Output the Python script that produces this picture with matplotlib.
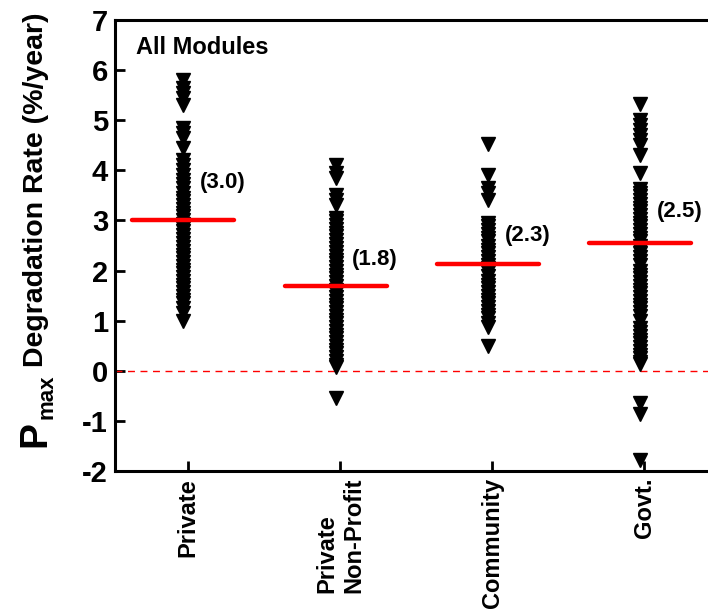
import matplotlib
matplotlib.use("Agg")
import matplotlib.pyplot as plt
import matplotlib.transforms as mtransforms

plt.rcParams['font.family'] = ['Liberation Sans', 'DejaVu Sans']

categories = ['Private', 'Private\nNon-Profit', 'Community', 'Govt.']

private_vals = [5.8, 5.65, 5.55, 5.45, 5.3,
                4.85, 4.75, 4.65, 4.45,
                4.2, 4.1, 4.0, 3.9, 3.8, 3.72, 3.65, 3.55, 3.45, 3.38, 3.3, 3.22,
                3.15, 3.08, 3.0, 2.92, 2.85, 2.78, 2.7, 2.62, 2.55, 2.48, 2.4,
                2.32, 2.25, 2.18, 2.1, 2.02, 1.95, 1.88, 1.8, 1.72, 1.65, 1.58,
                1.5, 1.42, 1.35, 1.25, 1.15, 1.0]
nonprofit_vals = [4.1, 3.95, 3.85,
                  3.5, 3.4, 3.3,
                  3.05, 2.98, 2.9, 2.82, 2.75, 2.68, 2.6, 2.52, 2.45, 2.38, 2.3,
                  2.22, 2.15, 2.08, 2.0, 1.92, 1.85, 1.78, 1.7, 1.62, 1.55, 1.48,
                  1.4, 1.32, 1.25, 1.18, 1.1, 1.02, 0.95, 0.88, 0.8, 0.72, 0.65,
                  0.58, 0.5, 0.42, 0.35, 0.28, 0.2, 0.12, 0.07,
                  -0.55]
community_vals = [4.52,
                  3.9, 3.65, 3.55, 3.4,
                  2.95, 2.88, 2.8, 2.72, 2.65, 2.58, 2.5, 2.42, 2.35, 2.28, 2.2,
                  2.12, 2.05, 1.98, 1.9, 1.8, 1.72, 1.65, 1.58, 1.5, 1.42, 1.35,
                  1.28, 1.2, 1.12, 1.05, 0.95, 0.87,
                  0.49]
govt_vals = [5.33,
             5.0, 4.9, 4.8, 4.7, 4.6, 4.5, 4.3,
             3.95,
             3.63, 3.55, 3.48, 3.4, 3.32, 3.25, 3.18, 3.1, 3.02, 2.95, 2.88,
             2.8, 2.72, 2.65, 2.58, 2.5, 2.42, 2.35, 2.28, 2.2, 2.12, 2.0,
             1.92, 1.85, 1.78, 1.7, 1.62, 1.55, 1.48, 1.4, 1.32, 1.25, 1.18,
             1.1, 1.0, 0.85, 0.78, 0.7, 0.62, 0.55, 0.48, 0.4, 0.32, 0.25,
             0.18, 0.13,
             -0.65, -0.87,
             -1.78]
series = [private_vals, nonprofit_vals, community_vals, govt_vals]

mean_lines = [3.0, 1.7, 2.14, 2.54]
mean_labels = ['(3.0)', '(1.8)', '(2.3)', '(2.5)']
label_y = [3.75, 2.22, 2.7, 3.17]

y_ticks = [-2, -1, 0, 1, 2, 3, 4, 5, 6, 7]

W, H = 708, 615
fig = plt.figure(figsize=(W / 100, H / 100), dpi=100)
ax = fig.add_axes([115 / W, (H - 471) / H, (725 - 115) / W, (471 - 20) / H])

shift = -0.03
for i, vals in enumerate(series):
    xpos = i + 1 + shift
    ax.plot([xpos] * len(vals), vals, linestyle='none', marker='v',
            markersize=10.5, color='black', markeredgecolor='black', zorder=3)
    ax.plot([xpos - 0.335, xpos + 0.335], [mean_lines[i]] * 2, color='#ff0000',
            lw=3.2, solid_capstyle='round', zorder=4)
    ax.text(i + 1 + 0.08, label_y[i], mean_labels[i], fontsize=16,
            fontweight='bold', ha='left', va='center', zorder=5)

ax.axhline(0, color='#ff0000', lw=1.0, ls=(0, (5, 4)), zorder=2)

ax.set_xlim(0.52, 4.53)
ax.set_ylim(-2, 7)
ax.set_yticks(y_ticks)
ax.set_yticklabels([str(t) for t in y_ticks])
ax.set_xticks([1, 2, 3, 4])
ax.set_xticklabels(categories, rotation=90, fontsize=17, fontweight='bold',
                   multialignment='left')
for lab in ax.get_yticklabels():
    lab.set_fontsize(21)
    lab.set_fontweight('bold')

ax.tick_params(axis='both', direction='in', length=7, width=2, top=False, right=False)
ax.tick_params(axis='y', pad=5)
ax.tick_params(axis='x', pad=5)
for side in ['left', 'bottom', 'top']:
    ax.spines[side].set_linewidth(2.2)
ax.spines['right'].set_visible(False)

ax.text(0.035, 0.965, 'All Modules', transform=ax.transAxes, fontsize=17,
        fontweight='bold', ha='left', va='top')

# y label: large P, subscript "max", then the rest
ident = mtransforms.IdentityTransform()
fig.text(45, H - 447, 'P', fontsize=28, fontweight='bold', rotation=90,
         rotation_mode='anchor', ha='left', va='baseline', transform=ident)
fig.text(52, H - 419, 'max', fontsize=16, fontweight='bold', rotation=90,
         rotation_mode='anchor', ha='left', va='baseline', transform=ident)
fig.text(43, H - 367, 'Degradation Rate (%/year)', fontsize=20.5,
         fontweight='bold', rotation=90, rotation_mode='anchor', ha='left',
         va='baseline', transform=ident)

fig.savefig('out.png', dpi=100)
